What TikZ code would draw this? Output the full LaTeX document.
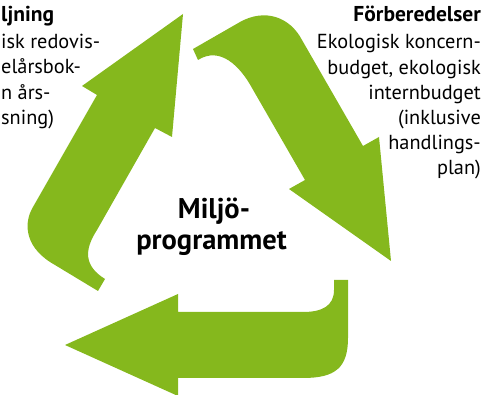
\documentclass[tikz,border=0pt]{standalone}
\usepackage{fontspec}
\setmainfont{PT Sans}
\definecolor{leaf}{RGB}{133,184,29}
\begin{document}
\begin{tikzpicture}[x=1pt,y=-1pt,
  arrowshape/.style={fill=leaf,draw=none},
  plain/.style={inner sep=0pt,font=\fontsize{20.3}{24}\selectfont},
  heading/.style={inner sep=0pt,font=\fontsize{21.5}{24}\selectfont\bfseries},
  centre/.style={inner sep=0pt,font=\fontsize{28.5}{32}\selectfont\bfseries}]
\useasboundingbox (0,0) rectangle (483,395);
% left arrow (pointing up-right)
\path[arrowshape] (183,14) -- (172,137) -- (155,128) -- (97,230)
  .. controls (84,250) and (84,266) .. (105,279) -- (98,291) -- (50,262)
  .. controls (24,245) and (24,222) .. (33,207) -- (97,95) -- (82,86) -- cycle;
% right arrow (pointing down-right)
\path[arrowshape] (193,49) -- (240,22) .. controls (265,8) and (290,17) .. (302,40)
  -- (363,146) -- (379,137) -- (391,261) -- (289,189) -- (305,180) -- (252,88)
  .. controls (240,66) and (220,46) .. (198,60) -- cycle;
% bottom arrow (pointing left)
\path[arrowshape] (65,345) -- (178,294) -- (178,312) -- (303,312)
  .. controls (322,312) and (334,306) .. (334,290) -- (334,280) -- (348,280)
  -- (348,338) .. controls (348,368) and (335,378) .. (303,378) -- (178,378)
  -- (178,396) -- cycle;
% centre
\node[centre,anchor=base] (c1) at (214,219) {Miljö-};
\node[centre,anchor=base] (c2) at (211.5,249.5) {programmet};
% right text
\node[heading,anchor=base east] (r0) at (481,22) {Förberedelser};
\node[plain,anchor=base east] (r1) at (481,49) {Ekologisk koncern-};
\node[plain,anchor=base east] (r2) at (481,75) {budget, ekologisk};
\node[plain,anchor=base east] (r3) at (481,100) {internbudget};
\node[plain,anchor=base east] (r4) at (481,125) {(inklusive};
\node[plain,anchor=base east] (r5) at (481,150) {handlings-};
\node[plain,anchor=base east] (r6) at (481,175) {plan)};
% left text (as far as it shows at the edge)
\node[heading,anchor=base west] (l0) at (1,22) {ljning};
\node[plain,anchor=base west] (l1) at (1,48.5) {isk redovis-};
\node[plain,anchor=base west] (l2) at (1,74) {elårsbok-};
\node[plain,anchor=base west] (l3) at (1,99.5) {n års-};
\node[plain,anchor=base west] (l4) at (1,125) {sning)};
\end{tikzpicture}
\end{document}
